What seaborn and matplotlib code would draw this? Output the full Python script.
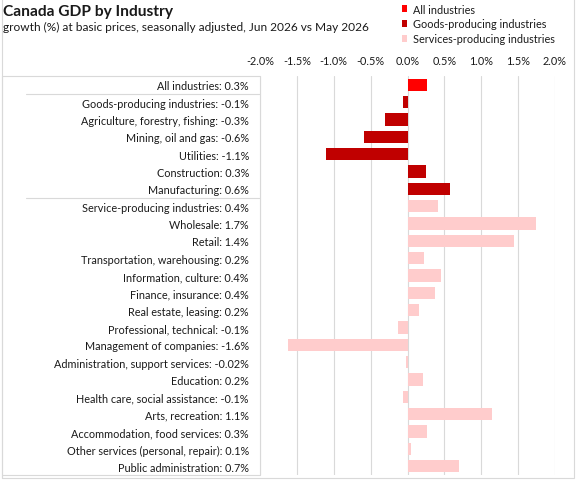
import matplotlib
matplotlib.use("Agg")
import matplotlib.pyplot as plt
import seaborn as sns
import pandas as pd
from matplotlib.lines import Line2D
from matplotlib.patches import Rectangle

sns.set_style("white")
plt.rcParams['font.family'] = ['Lato', 'DejaVu Sans']

labels = [
    "All industries: 0.3%",
    "Goods-producing industries: -0.1%",
    "Agriculture, forestry, fishing: -0.3%",
    "Mining, oil and gas: -0.6%",
    "Utilities: -1.1%",
    "Construction: 0.3%",
    "Manufacturing: 0.6%",
    "Service-producing industries: 0.4%",
    "Wholesale: 1.7%",
    "Retail: 1.4%",
    "Transportation, warehousing: 0.2%",
    "Information, culture: 0.4%",
    "Finance, insurance: 0.4%",
    "Real estate, leasing: 0.2%",
    "Professional, technical: -0.1%",
    "Management of companies: -1.6%",
    "Administration, support services: -0.02%",
    "Education: 0.2%",
    "Health care, social assistance: -0.1%",
    "Arts, recreation: 1.1%",
    "Accommodation, food services: 0.3%",
    "Other services (personal, repair): 0.1%",
    "Public administration: 0.7%",
]
values = [0.26, -0.06, -0.30, -0.59, -1.11, 0.25, 0.58,
          0.41, 1.74, 1.44, 0.22, 0.45, 0.37, 0.16, -0.13,
          -1.62, -0.02, 0.21, -0.06, 1.14, 0.26, 0.05, 0.70]
groups = (["All industries"] + ["Goods-producing industries"] * 6
          + ["Services-producing industries"] * 16)
group_names = ["All industries", "Goods-producing industries", "Services-producing industries"]
group_colors = ["#FF0000", "#C00000", "#FFCCCC"]
xticks = [-2.0, -1.5, -1.0, -0.5, 0.0, 0.5, 1.0, 1.5, 2.0]

df = pd.DataFrame({"label": labels, "value": values, "group": groups})

W, H = 577, 481
fig = plt.figure(figsize=(W / 100, H / 100), dpi=100)
ax = fig.add_axes([260 / W, 1 - 476 / H, (555 - 260) / W, (476 - 77) / H])

sns.barplot(data=df, x="value", y="label", hue="group", hue_order=group_names,
            palette=dict(zip(group_names, group_colors)), dodge=False,
            width=0.71, orient="h", ax=ax, saturation=1, linewidth=0)

ax.set_xlim(-2, 2)
ax.set_ylim(len(labels) - 0.5, -0.5)
ax.set_xticks(xticks)
ax.set_xticklabels([f"{t:.1f}%" for t in xticks])
ax.xaxis.tick_top()
ax.tick_params(axis="x", length=0, pad=7.5, labelsize=7.8, colors="#1a1a1a")
ax.tick_params(axis="y", length=0, pad=8, labelsize=7.8, colors="#1a1a1a")
ax.set_xlabel("")
ax.set_ylabel("")
for s in ax.spines.values():
    s.set_visible(False)
ax.grid(axis="x", color="#D9D9D9", linewidth=0.8)
ax.set_axisbelow(True)

sns.move_legend(ax, loc="upper left", bbox_to_anchor=(395 / W, 1 + 2 / H),
                bbox_transform=fig.transFigure, frameon=False, title=None,
                fontsize=7.8, handlelength=0.55, handleheight=0.55,
                handletextpad=0.5, labelspacing=0.36, borderpad=0.1,
                labelcolor="#1a1a1a")

fig.text(3 / W, 1 - 12 / H, "Canada GDP by Industry", fontsize=11.2,
         fontweight="bold", va="center", ha="left", color="#1a1a1a")
fig.text(3 / W, 1 - 27 / H,
         "growth (%) at basic prices, seasonally adjusted, Jun 2026 vs May 2026",
         fontsize=8.6, va="center", ha="left", color="#1a1a1a")

lc = "#D9D9D9"
def hline(x0, x1, y):
    fig.add_artist(Line2D([x0 / W, x1 / W], [1 - y / H, 1 - y / H],
                          transform=fig.transFigure, color=lc, lw=0.8))
def vline(x, y0, y1):
    fig.add_artist(Line2D([x / W, x / W], [1 - y0 / H, 1 - y1 / H],
                          transform=fig.transFigure, color=lc, lw=0.8))

hline(1.5, 260, 77)
hline(26, 260, 94.5)
hline(26, 260, 198.5)
hline(1.5, 260, 476)
vline(260, 77, 476)
vline(1.5, 77, 479)
# outer chart border
fig.add_artist(Rectangle((1.5 / W, 1 - 479 / H), (574 - 1.5) / W, 479 / H + 0.01,
                         transform=fig.transFigure, fill=False, edgecolor=lc, lw=0.8))

fig.savefig("out.png", dpi=100)
